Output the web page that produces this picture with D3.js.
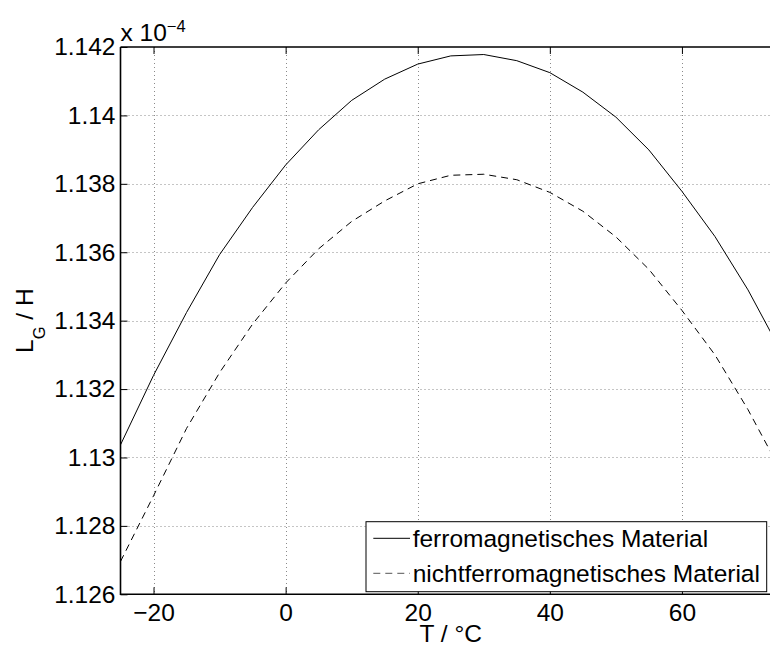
<!DOCTYPE html>
<html>
<head>
<meta charset="utf-8">
<script src="https://cdn.jsdelivr.net/npm/d3@7"></script>
<style>
  body { margin: 0; background: #fff; }
  svg { display: block; }
</style>
</head>
<body>
<div id="chart"></div>
<script>
// temperatures in °C, inductance in units of 1e-4 H
const temps = [-25, -20, -15, -10, -5, 0, 5, 10, 15, 20, 25, 30, 35, 40, 45, 50, 55, 60, 65, 70, 75];
const ferro = [1.13037, 1.1324, 1.13424, 1.13593, 1.13731, 1.13855, 1.13958, 1.14044, 1.14106, 1.1415,
  1.14174, 1.14178, 1.1416, 1.14125, 1.14068, 1.13995, 1.13899, 1.13778, 1.13646, 1.1349, 1.1331];
const nonFerro = [1.12696, 1.12888, 1.13085, 1.13248, 1.1339, 1.1351, 1.1361, 1.1369, 1.1375, 1.138,
  1.13825, 1.13828, 1.13812, 1.13775, 1.1372, 1.13645, 1.1355, 1.1343, 1.133, 1.1314, 1.1296];
const xTicks = [-20, 0, 20, 40, 60];
const yTicks = [1.126, 1.128, 1.13, 1.132, 1.134, 1.136, 1.138, 1.14, 1.142];
const yTickLabels = ["1.126", "1.128", "1.13", "1.132", "1.134", "1.136", "1.138", "1.14", "1.142"];
const seriesNames = ["ferromagnetisches Material", "nichtferromagnetisches Material"];

const W = 770, H = 646;
const pLeft = 120.5, pRight = 781, pTop = 47, pBottom = 594.3;
const font = "'Liberation Sans', Arial, Helvetica, sans-serif";
const fs = "24.5px";

const svg = d3.select("#chart").append("svg")
  .attr("width", W)
  .attr("height", H)
  .style("font-family", font);

svg.append("rect").attr("width", W).attr("height", H).attr("fill", "#fff");

const x = d3.scaleLinear().domain([-25, 75]).range([pLeft, pRight]);
const y = d3.scaleLinear().domain([1.126, 1.142]).range([pBottom, pTop]);

// dotted grid
svg.append("g").selectAll("line")
  .data(xTicks)
  .join("line")
    .attr("x1", d => Math.round(x(d)) + 0.5).attr("x2", d => Math.round(x(d)) + 0.5)
    .attr("y1", pTop).attr("y2", pBottom)
    .attr("stroke", "#8a8a8a").attr("stroke-width", 1)
    .attr("stroke-dasharray", "1,3");
svg.append("g").selectAll("line")
  .data(yTicks.slice(1, -1))
  .join("line")
    .attr("x1", pLeft).attr("x2", pRight)
    .attr("y1", d => Math.round(y(d)) + 0.5).attr("y2", d => Math.round(y(d)) + 0.5)
    .attr("stroke", "#8a8a8a").attr("stroke-width", 1)
    .attr("stroke-dasharray", "1,3");

// curves
const line = d3.line()
  .x((d, i) => x(temps[i]))
  .y(d => y(d));

svg.append("path")
  .datum(ferro)
  .attr("fill", "none")
  .attr("stroke", "#000")
  .attr("stroke-width", 1)
  .attr("d", line);

svg.append("path")
  .datum(nonFerro)
  .attr("fill", "none")
  .attr("stroke", "#000")
  .attr("stroke-width", 1)
  .attr("stroke-dasharray", "7,5")
  .attr("d", line);

// axes (ticks pointing inward)
const xAxis = svg.append("g")
  .attr("transform", `translate(0,${pBottom})`)
  .call(d3.axisBottom(x).tickValues(xTicks).tickSize(-7).tickPadding(9)
    .tickFormat(d => d < 0 ? "\u2212" + Math.abs(d) : d));
const xAxisTop = svg.append("g")
  .attr("transform", `translate(0,${pTop})`)
  .call(d3.axisTop(x).tickValues(xTicks).tickSize(-7).tickFormat(""));
const yAxis = svg.append("g")
  .attr("transform", `translate(${pLeft},0)`)
  .call(d3.axisLeft(y).tickValues(yTicks).tickSize(-7).tickPadding(5)
    .tickFormat((d, i) => yTickLabels[i]));

[xAxis, xAxisTop, yAxis].forEach(g => {
  g.select(".domain").remove();
  g.selectAll(".tick line").attr("stroke", "#000");
  g.selectAll("text")
    .attr("fill", "#000")
    .style("font-family", font)
    .style("font-size", fs);
});
xAxis.selectAll("text").attr("dy", "0.71em");

// frame
svg.append("path")
  .attr("d", `M${pLeft},${pTop}H${pRight}M${pLeft},${pTop}V${pBottom}H${pRight}`)
  .attr("fill", "none")
  .attr("stroke", "#000")
  .attr("stroke-width", 1.6);

// exponent
const expo = svg.append("text")
  .attr("x", pLeft)
  .attr("y", 40.7)
  .style("font-size", fs)
  .text("x 10");
expo.append("tspan")
  .attr("dy", -9)
  .style("font-size", "16.5px")
  .text("\u22124");

// axis labels
svg.append("text")
  .attr("x", (pLeft + pRight) / 2)
  .attr("y", 642)
  .attr("text-anchor", "middle")
  .style("font-size", fs)
  .text("T / \u00b0C");

const yl = svg.append("text")
  .attr("transform", `translate(33.3,${(pTop + pBottom) / 2}) rotate(-90)`)
  .attr("text-anchor", "middle")
  .style("font-size", fs);
yl.append("tspan").text("L");
yl.append("tspan").attr("dy", 11.7).style("font-size", "16.5px").text("G");
yl.append("tspan").attr("dy", -11.7).text(" / H");

// legend
const lg = svg.append("g");
lg.append("rect")
  .attr("x", 366).attr("y", 521.7)
  .attr("width", 400.7).attr("height", 70)
  .attr("fill", "#fff")
  .attr("stroke", "#000")
  .attr("stroke-width", 1);
const legendRows = [538.3, 573.3];
seriesNames.forEach((name, i) => {
  lg.append("line")
    .attr("x1", 373.3).attr("x2", 410)
    .attr("y1", legendRows[i]).attr("y2", legendRows[i])
    .attr("stroke", i === 0 ? "#000" : "#555")
    .attr("stroke-width", 1)
    .attr("stroke-dasharray", i === 0 ? null : "7,5");
  lg.append("text")
    .attr("x", 412.7)
    .attr("y", legendRows[i] + 8.4)
    .style("font-size", fs)
    .text(name);
});
</script>
</body>
</html>
